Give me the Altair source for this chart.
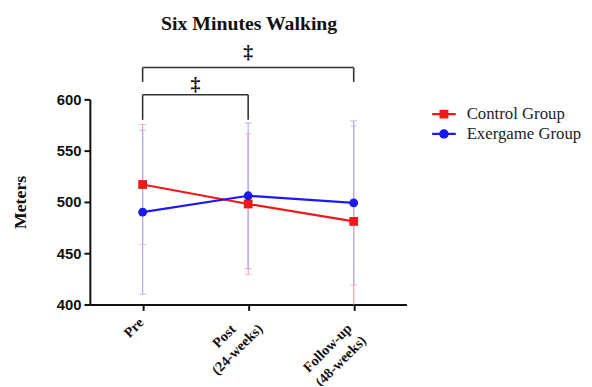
import altair as alt
import pandas as pd

# ---------------- data ----------------
categories = ["Pre", "Post\n(24-weeks)", "Follow-up\n(48-weeks)"]
groups = ["Control Group", "Exergame Group"]
control_mean = [517, 498, 481]
control_sd = [58.5, 68.5, 93]
exergame_mean = [490, 506, 499]
exergame_sd = [80, 71, 80]
y_ticks = [400, 450, 500, 550, 600]
title_text = "Six Minutes Walking"
y_title = "Meters"

# significance brackets (x as category index, y in metres)
bracket_from = [0, 0]
bracket_to = [2, 1]
bracket_top = [631, 604.5]
bracket_bottom = [617, 580]
bracket_label = ["\u2021", "\u2021"]
bracket_label_y = [646, 615]

# ---------------- styles ----------------
RED = "#ee1a1a"
BLUE = "#1a1aee"
RED_ERR = "#f0a3a3"
BLUE_ERR = "#aeaef0"
INK = "#111111"
W, H = 321, 208

rows = []
for i, c in enumerate(categories):
    rows.append(dict(idx=i, cat=c, group=groups[0], mean=control_mean[i],
                     lo=control_mean[i] - control_sd[i], hi=control_mean[i] + control_sd[i]))
    rows.append(dict(idx=i, cat=c, group=groups[1], mean=exergame_mean[i],
                     lo=exergame_mean[i] - exergame_sd[i], hi=exergame_mean[i] + exergame_sd[i]))
df = pd.DataFrame(rows)

br = pd.DataFrame(dict(frm=bracket_from, to=bracket_to, top=bracket_top,
                       bottom=bracket_bottom, label=bracket_label, ly=bracket_label_y))
br["mid"] = (br["frm"] + br["to"]) / 2

xscale = alt.Scale(domain=[-0.5, 2.5], nice=False, zero=False)
yscale = alt.Scale(domain=[400, 600], nice=False, zero=False)
xaxis = alt.Axis(values=[0, 1, 2], labels=False, title=None, grid=False,
                 tickSize=6, tickWidth=2, tickColor=INK, domainWidth=2, domainColor=INK)
yaxis = alt.Axis(values=y_ticks, title=y_title, grid=False,
                 tickSize=6, tickWidth=2, tickColor=INK, domainWidth=2, domainColor=INK,
                 labelFont="Liberation Sans", labelFontWeight="bold", labelFontSize=15,
                 labelColor=INK, labelPadding=3,
                 titleFont="Liberation Serif", titleFontWeight="bold", titleFontSize=18,
                 titleColor=INK, titlePadding=27)


def X(field):
    return alt.X(field, type="quantitative", scale=xscale, axis=xaxis)


def Y(field):
    return alt.Y(field, type="quantitative", scale=yscale, axis=yaxis)


base = alt.Chart(df)
layers = []

# error bars
for g, col in [(groups[0], RED_ERR), (groups[1], BLUE_ERR)]:
    sub = base.transform_filter(alt.datum.group == g)
    layers.append(sub.mark_rule(color=col, strokeWidth=1.2, clip=True).encode(
        x=X("idx"), y=Y("lo"), y2="hi:Q"))
    layers.append(sub.mark_tick(color=col, orient="horizontal", size=7, thickness=1.2, clip=True).encode(
        x=X("idx"), y=Y("lo")))
    layers.append(sub.mark_tick(color=col, orient="horizontal", size=7, thickness=1.2, clip=True).encode(
        x=X("idx"), y=Y("hi")))

# lines and markers
for g, col, shp, sz in [(groups[0], RED, "square", 80), (groups[1], BLUE, "circle", 80)]:
    sub = base.transform_filter(alt.datum.group == g)
    layers.append(sub.mark_line(color=col, strokeWidth=2.2).encode(x=X("idx"), y=Y("mean")))
    layers.append(sub.mark_point(shape=shp, filled=True, size=sz, color=col, opacity=1).encode(
        x=X("idx"), y=Y("mean")))

# significance brackets
bb = alt.Chart(br)
bcol = "#333333"
layers.append(bb.mark_rule(color=bcol, strokeWidth=1.6).encode(x=X("frm"), x2="to:Q", y=Y("top")))
layers.append(bb.mark_rule(color=bcol, strokeWidth=1.6).encode(x=X("frm"), y=Y("top"), y2="bottom:Q"))
layers.append(bb.mark_rule(color=bcol, strokeWidth=1.6).encode(x=X("to"), y=Y("top"), y2="bottom:Q"))
layers.append(bb.mark_text(font="Liberation Serif", fontSize=20, fontWeight="bold", color=INK,
                           baseline="middle", align="center").encode(
    x=X("mid"), y=Y("ly"), text="label:N"))

# rotated category labels under the x axis
label_offsets = [(-23, 11), (-40, 6), (-50, 13)]
for i, c in enumerate(categories):
    ldf = pd.DataFrame({"idx": [i], "label": [c]})
    dx, dy = label_offsets[i]
    layers.append(alt.Chart(ldf).mark_text(
        angle=315, align="center", baseline="middle", lineBreak="\n", lineHeight=19,
        dx=dx, dy=dy, font="Liberation Serif", fontWeight="bold", fontSize=14.5, color=INK
    ).encode(x=X("idx"), y=alt.value(H), text="label:N"))

# legend (symbols only; marks themselves are clipped away)
sq_path = "M-1.2,-0.12L1.2,-0.12L1.2,0.12L-1.2,0.12ZM-0.45,-0.45L0.45,-0.45L0.45,0.45L-0.45,0.45Z"
ci_path = ("M-1.2,-0.12L1.2,-0.12L1.2,0.12L-1.2,0.12Z"
           "M0.48,0A0.48,0.48,0,1,1,-0.48,0A0.48,0.48,0,1,1,0.48,0Z")
leg = alt.Legend(title=None, orient="none", legendX=349, legendY=5, symbolSize=400,
                 symbolStrokeWidth=0, symbolOpacity=1, labelFont="Liberation Serif",
                 labelFontSize=17, labelColor="#222222", labelOffset=13, rowPadding=2,
                 padding=0, labelLimit=300)
layers.append(base.transform_filter(alt.datum.idx == 0).mark_point(filled=True, clip=True, opacity=1).encode(
    x=X("idx"), y=alt.value(-3000),
    color=alt.Color("group:N", scale=alt.Scale(domain=groups, range=[RED, BLUE]), legend=leg),
    shape=alt.Shape("group:N", scale=alt.Scale(domain=groups, range=[sq_path, ci_path]), legend=leg),
))

chart = alt.layer(*layers).properties(
    width=W, height=H,
    background="white",
    title=alt.TitleParams(title_text, font="Liberation Serif", fontSize=20, fontWeight="bold",
                          color=INK, anchor="middle", frame="group", dx=1, offset=8),
    autosize=alt.AutoSizeParams(type="none"),
    padding={"left": 83, "top": 90, "right": 180, "bottom": 80},
).configure_view(stroke=None, strokeWidth=0)

chart.save("out.html", embed_options={"renderer": "svg", "actions": False})
